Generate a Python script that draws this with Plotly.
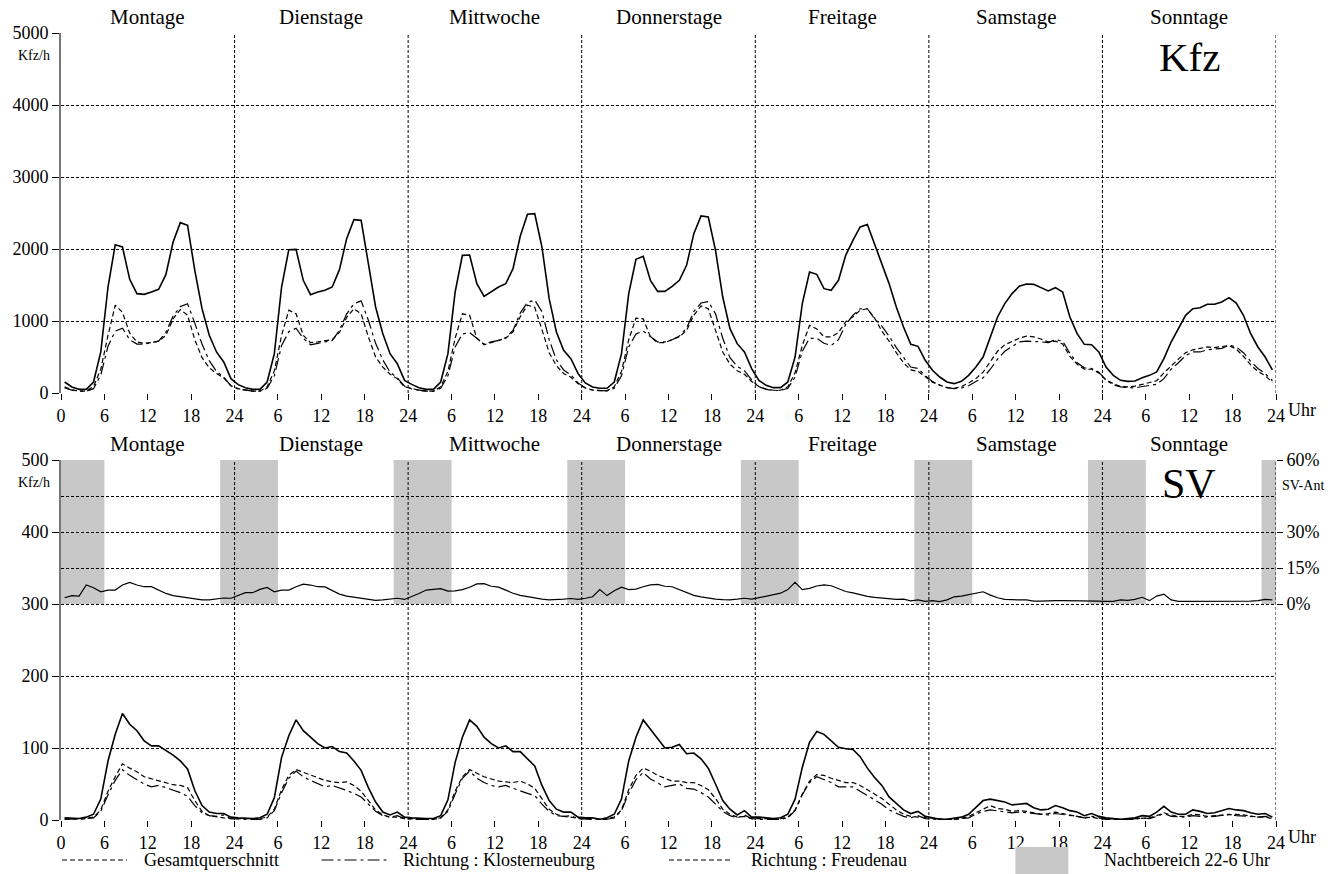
import plotly.graph_objects as go

# ---------------- data ----------------
days = ["Montage", "Dienstage", "Mittwoche", "Donnerstage", "Freitage", "Samstage", "Sonntage"]
x_ticks = list(range(0, 169, 6))
x_ticklabels = ["0"] + [str(v % 24 if v % 24 else 24) for v in x_ticks[1:]]
kfz_yticks = [0, 1000, 2000, 3000, 4000, 5000]
sv_yticks = [0, 100, 200, 300, 400, 500]
pct_ticks = [0, 15, 30, 60]
pct_ticklabels = ["0%", "15%", "30%", "60%"]
night_start, night_end = 22, 6

# Kfz/h, Gesamtquerschnitt (hourly, per day)
kfz_gesamt = [
    [153, 83, 51, 51, 153, 570, 1472, 2060, 2028, 1579, 1380, 1370, 1403, 1440, 1644, 2097, 2366, 2329, 1704, 1171, 801, 570, 431, 199],
    [116, 74, 51, 51, 153, 546, 1472, 1991, 1995, 1565, 1366, 1403, 1426, 1472, 1713, 2144, 2408, 2398, 1796, 1195, 824, 546, 407, 176],
    [120, 74, 51, 51, 153, 546, 1403, 1912, 1917, 1519, 1343, 1412, 1472, 1519, 1727, 2176, 2482, 2491, 2028, 1310, 847, 593, 477, 269],
    [139, 83, 65, 65, 153, 546, 1380, 1857, 1898, 1565, 1412, 1412, 1482, 1565, 1773, 2213, 2459, 2445, 1982, 1333, 894, 685, 570, 338],
    [176, 106, 74, 74, 153, 500, 1241, 1681, 1648, 1449, 1426, 1565, 1912, 2120, 2306, 2340, 2074, 1796, 1519, 1195, 917, 676, 648, 454],
    [315, 222, 153, 130, 162, 245, 361, 500, 778, 1056, 1241, 1380, 1482, 1514, 1509, 1463, 1417, 1463, 1403, 1056, 824, 676, 671, 570],
    [361, 245, 176, 162, 167, 213, 245, 292, 477, 708, 894, 1079, 1171, 1185, 1232, 1232, 1264, 1324, 1250, 1079, 824, 639, 500, 320],
]
# Kfz/h, Richtung Klosterneuburg
kfz_kloster = [
    [70, 40, 25, 25, 60, 250, 650, 860, 900, 740, 680, 680, 700, 720, 840, 1070, 1200, 1240, 970, 680, 450, 300, 220, 100],
    [55, 35, 25, 25, 65, 240, 660, 850, 900, 760, 670, 690, 710, 730, 870, 1100, 1240, 1280, 1010, 690, 460, 290, 210, 95],
    [55, 36, 25, 25, 65, 240, 640, 820, 840, 760, 680, 710, 730, 770, 870, 1110, 1260, 1290, 1130, 740, 460, 320, 250, 140],
    [70, 40, 30, 30, 65, 240, 640, 820, 860, 780, 710, 710, 740, 790, 900, 1130, 1250, 1270, 1100, 760, 490, 370, 310, 180],
    [85, 50, 35, 35, 65, 220, 580, 760, 760, 690, 660, 740, 950, 1080, 1170, 1170, 1030, 930, 790, 630, 490, 360, 340, 240],
    [160, 110, 75, 60, 70, 100, 160, 210, 330, 470, 580, 650, 710, 720, 720, 710, 700, 740, 720, 550, 420, 350, 340, 290],
    [180, 115, 85, 75, 70, 90, 105, 120, 200, 330, 420, 520, 570, 570, 600, 610, 620, 665, 640, 560, 440, 340, 270, 170],
]
# Kfz/h, Richtung Freudenau
kfz_freudenau = [
    [85, 45, 25, 25, 90, 330, 800, 1220, 1120, 830, 710, 690, 700, 720, 800, 1030, 1160, 1080, 740, 490, 350, 270, 210, 100],
    [60, 40, 25, 25, 85, 310, 800, 1150, 1100, 800, 700, 710, 720, 740, 840, 1050, 1170, 1100, 780, 500, 360, 260, 200, 85],
    [65, 38, 25, 25, 85, 300, 760, 1100, 1080, 760, 670, 700, 740, 760, 850, 1060, 1220, 1190, 880, 560, 380, 270, 220, 130],
    [70, 42, 33, 33, 85, 300, 740, 1040, 1030, 780, 700, 700, 740, 780, 870, 1080, 1210, 1170, 870, 570, 400, 310, 260, 160],
    [90, 55, 38, 38, 85, 280, 660, 940, 890, 780, 780, 840, 990, 1060, 1150, 1170, 1040, 860, 720, 560, 420, 320, 300, 220],
    [150, 110, 75, 65, 90, 140, 200, 290, 440, 580, 670, 720, 760, 790, 780, 750, 710, 720, 680, 510, 400, 330, 330, 280],
    [180, 130, 90, 85, 95, 120, 140, 170, 280, 380, 470, 560, 600, 620, 640, 630, 640, 660, 610, 510, 390, 300, 240, 150],
]
# SV/h, Gesamtquerschnitt
sv_gesamt = [
    [3, 2, 2, 4, 8, 29, 82, 119, 148, 133, 124, 110, 103, 103, 97, 90, 82, 71, 41, 20, 11, 9, 9, 4],
    [3, 2, 2, 3, 8, 31, 87, 117, 139, 124, 115, 106, 100, 102, 95, 93, 82, 69, 45, 25, 11, 7, 11, 4],
    [3, 2, 2, 2, 6, 28, 80, 115, 139, 130, 115, 106, 100, 103, 95, 95, 85, 75, 48, 27, 15, 11, 11, 4],
    [3, 3, 1, 3, 8, 29, 82, 115, 139, 126, 113, 100, 101, 105, 92, 93, 85, 72, 50, 27, 15, 7, 13, 4],
    [4, 3, 2, 3, 8, 29, 73, 108, 123, 119, 110, 101, 99, 98, 88, 72, 59, 48, 32, 23, 14, 9, 12, 5],
    [3, 1, 1, 2, 4, 8, 18, 27, 29, 27, 25, 21, 22, 23, 17, 14, 15, 20, 17, 13, 11, 6, 9, 5],
    [3, 2, 1, 2, 3, 6, 5, 11, 19, 11, 8, 8, 14, 12, 9, 10, 13, 16, 14, 13, 10, 8, 9, 4],
]
# SV/h, Richtung Klosterneuburg
sv_kloster = [
    [1, 1, 1, 2, 3, 12, 35, 55, 70, 62, 56, 50, 46, 48, 45, 42, 38, 33, 20, 10, 6, 5, 7, 2],
    [1, 1, 1, 1, 3, 13, 38, 58, 68, 60, 55, 50, 46, 48, 45, 41, 37, 32, 22, 12, 6, 4, 6, 2],
    [1, 1, 1, 1, 3, 12, 36, 58, 68, 58, 52, 48, 46, 48, 44, 40, 37, 34, 22, 12, 6, 5, 6, 2],
    [1, 1, 0, 1, 3, 13, 37, 56, 66, 57, 52, 46, 48, 50, 44, 43, 38, 32, 22, 12, 6, 3, 7, 2],
    [1, 1, 1, 1, 3, 13, 35, 52, 60, 56, 52, 46, 46, 46, 40, 34, 28, 22, 14, 10, 5, 3, 6, 2],
    [1, 0, 0, 1, 2, 3, 8, 12, 14, 13, 12, 10, 11, 10, 8, 7, 7, 9, 8, 6, 5, 3, 5, 3],
    [1, 1, 0, 1, 1, 3, 2, 5, 9, 5, 4, 4, 6, 5, 4, 5, 6, 8, 6, 6, 5, 4, 5, 2],
]
# SV/h, Richtung Freudenau
sv_freudenau = [
    [2, 1, 1, 2, 4, 14, 40, 60, 78, 72, 67, 60, 57, 54, 52, 49, 48, 45, 27, 12, 6, 4, 3, 2],
    [2, 1, 1, 2, 4, 15, 42, 62, 70, 66, 62, 58, 55, 53, 52, 53, 48, 40, 27, 14, 7, 4, 4, 2],
    [2, 1, 1, 1, 3, 14, 40, 60, 70, 65, 60, 57, 54, 53, 52, 54, 50, 44, 30, 15, 8, 5, 4, 2],
    [2, 2, 1, 2, 4, 14, 42, 62, 72, 68, 62, 58, 54, 54, 52, 52, 48, 42, 30, 15, 8, 4, 5, 2],
    [2, 2, 1, 2, 4, 14, 36, 54, 63, 62, 58, 55, 52, 52, 48, 42, 36, 30, 22, 14, 8, 5, 4, 3],
    [2, 1, 1, 1, 2, 5, 10, 16, 20, 16, 15, 12, 13, 12, 10, 8, 9, 11, 9, 7, 5, 3, 4, 2],
    [2, 1, 1, 1, 2, 3, 3, 6, 10, 7, 5, 5, 8, 7, 5, 6, 7, 8, 8, 7, 5, 4, 4, 2],
]
# SV-Anteil in %
sv_anteil = [
    [2.6, 3.5, 3.3, 7.9, 6.8, 5.1, 5.8, 5.8, 7.9, 9.0, 7.9, 7.2, 7.2, 5.8, 4.4, 3.5, 3.0, 2.4, 1.9, 1.7, 1.7, 2.2, 2.5, 2.4],
    [3.5, 4.7, 4.7, 6.1, 6.9, 5.1, 5.8, 5.8, 7.2, 8.3, 7.9, 7.2, 7.1, 5.5, 4.1, 3.3, 2.8, 2.4, 1.9, 1.5, 1.7, 2.1, 2.4, 1.9],
    [3.0, 4.4, 5.8, 6.1, 6.4, 5.4, 5.5, 6.0, 7.0, 8.4, 8.5, 7.4, 7.0, 5.8, 4.5, 3.6, 3.0, 2.5, 2.0, 1.7, 1.7, 2.0, 2.3, 1.9],
    [2.4, 3.0, 6.0, 3.5, 5.5, 7.0, 6.0, 6.2, 7.2, 8.0, 8.2, 7.4, 7.2, 6.0, 4.6, 3.6, 3.0, 2.4, 2.0, 1.8, 1.7, 2.0, 2.4, 2.0],
    [2.6, 3.4, 3.8, 4.5, 6.0, 9.0, 6.0, 6.5, 7.5, 8.0, 7.6, 6.4, 5.2, 4.6, 3.8, 3.2, 2.8, 2.5, 2.1, 1.9, 2.0, 1.3, 1.7, 1.1],
    [1.4, 1.0, 1.7, 3.0, 3.3, 4.0, 4.7, 5.1, 3.7, 2.6, 1.9, 1.7, 1.7, 1.7, 1.2, 1.2, 1.4, 1.4, 1.4, 1.4, 1.5, 1.4, 1.5, 1.2],
    [1.1, 1.1, 1.7, 1.5, 1.9, 2.8, 1.4, 3.3, 4.1, 1.7, 1.1, 1.1, 1.2, 1.2, 1.0, 1.0, 1.1, 1.2, 1.2, 1.2, 1.2, 1.4, 1.9, 1.7],
]


def flat(d):
    return [v for day in d for v in day]


n_hours = 24 * len(days)
x_hours = [h + 0.5 for h in range(n_hours)]

FONT = "Liberation Serif, Times New Roman, serif"
BLACK = "black"
GRID_DASH = "3px,2px"
DASH_KLOSTER = "12px,4px,3px,4px"
DASH_FREUD = "5px,3px"

fig = go.Figure()

# ---------------- traces ----------------
for xa, ya, g, k, f in [("x", "y", kfz_gesamt, kfz_kloster, kfz_freudenau),
                         ("x2", "y2", sv_gesamt, sv_kloster, sv_freudenau)]:
    fig.add_trace(go.Scatter(x=x_hours, y=flat(k), mode="lines", xaxis=xa, yaxis=ya,
                             line=dict(color=BLACK, width=1.2, dash=DASH_KLOSTER),
                             name="Richtung : Klosterneuburg", showlegend=False))
    fig.add_trace(go.Scatter(x=x_hours, y=flat(f), mode="lines", xaxis=xa, yaxis=ya,
                             line=dict(color=BLACK, width=1.2, dash=DASH_FREUD),
                             name="Richtung : Freudenau", showlegend=False))
    fig.add_trace(go.Scatter(x=x_hours, y=flat(g), mode="lines", xaxis=xa, yaxis=ya,
                             line=dict(color=BLACK, width=1.6),
                             name="Gesamtquerschnitt", showlegend=False))

fig.add_trace(go.Scatter(x=x_hours, y=flat(sv_anteil), mode="lines", xaxis="x2", yaxis="y3",
                         line=dict(color=BLACK, width=1.2), name="SV-Ant", showlegend=False))

# ---------------- layout ----------------
W, H = 1341, 874
ML, MR, MT, MB = 59, 65, 33, 54
PW, PH = W - ML - MR, H - MT - MB


def px_x(p):
    return (p - ML) / PW


def px_y(p):
    return (H - MB - p) / PH


tickfont = dict(family=FONT, size=18, color=BLACK)
xax = dict(range=[0, n_hours], tickmode="array", tickvals=x_ticks, ticktext=x_ticklabels,
           ticks="outside", ticklen=6, tickcolor=BLACK, tickwidth=1, showgrid=False,
           zeroline=False, showline=False, tickfont=tickfont, fixedrange=True)
yax_common = dict(tickmode="array", ticks="outside", ticklen=7, tickcolor=BLACK, showgrid=True,
                  gridcolor=BLACK, griddash=GRID_DASH, gridwidth=1, zeroline=False,
                  showline=True, linecolor="#777777", linewidth=2, tickfont=tickfont)

top_dom = [px_y(393), 1.0]
bot_dom = [0.0, px_y(460)]
kfz_range = [0, 5000]
sv_range = [0, 500]

fig.update_layout(
    width=W, height=H, margin=dict(l=ML, r=MR, t=MT, b=MB),
    paper_bgcolor="white", plot_bgcolor="white",
    font=dict(family=FONT, color=BLACK),
    xaxis=dict(xax, anchor="y", domain=[0, 1]),
    xaxis2=dict(xax, anchor="y2", domain=[0, 1]),
    yaxis=dict(yax_common, domain=top_dom, range=kfz_range, tickvals=kfz_yticks, anchor="x"),
    yaxis2=dict(yax_common, domain=bot_dom, range=sv_range, tickvals=sv_yticks, anchor="x2",
                minor=dict(tickmode="array", tickvals=[350, 450], showgrid=True, gridcolor=BLACK,
                           griddash=GRID_DASH, gridwidth=1, ticks="")),
    yaxis3=dict(overlaying="y2", side="right", anchor="x2", range=[-90, 60], tickmode="array",
                tickvals=pct_ticks, ticktext=pct_ticklabels, ticks="outside", ticklen=6,
                tickcolor=BLACK, showgrid=False, zeroline=False, showline=False, tickfont=tickfont),
    showlegend=False,
)

shapes = []
# night shading (22-6 Uhr) in the SV-Anteil band
for d in range(len(days) + 1):
    x0 = max(0, 24 * d - (24 - night_start))
    x1 = min(n_hours, 24 * d + night_end)
    if x1 > x0:
        shapes.append(dict(type="rect", xref="x2", yref="y2", x0=x0, x1=x1, y0=300, y1=500,
                           fillcolor="#c8c8c8", line=dict(width=0), layer="below"))
# vertical day-boundary grid lines (drawn after shading so they stay visible)
for xa, ya, rng in [("x", "y", kfz_range), ("x2", "y2", sv_range)]:
    for d in range(1, len(days) + 1):
        shapes.append(dict(type="line", xref=xa, yref=ya, x0=24 * d, x1=24 * d,
                           y0=rng[0], y1=rng[1],
                           line=dict(color=BLACK, width=1, dash=GRID_DASH), layer="below"))

annotations = []
for xa, ya in [("x", "y domain"), ("x2", "y2 domain")]:
    for i, name in enumerate(days):
        annotations.append(dict(x=24 * i + 12, xref=xa, y=1, yref=ya, yanchor="bottom",
                                text=name, showarrow=False, yshift=2,
                                font=dict(family=FONT, size=21, color=BLACK)))
    annotations.append(dict(x=0, xref=xa + " domain", y=1, yref=ya,
                            xanchor="right", yanchor="top", xshift=-9, yshift=-13,
                            text="Kfz/h", showarrow=False,
                            font=dict(family=FONT, size=14, color=BLACK)))
    annotations.append(dict(x=1, xref=xa + " domain", y=0, yref=ya, xanchor="left",
                            yanchor="top", xshift=10, yshift=-5, text="Uhr", showarrow=False,
                            font=dict(family=FONT, size=18, color=BLACK)))

annotations.append(dict(x=24 * 6 + 12, xref="x", y=1, yref="y domain", yanchor="middle",
                        yshift=-24, text="Kfz", showarrow=False,
                        font=dict(family=FONT, size=41, color=BLACK)))
annotations.append(dict(x=24 * 6 + 12, xref="x2", y=1, yref="y2 domain", yanchor="middle",
                        yshift=-24, text="SV", showarrow=False,
                        font=dict(family=FONT, size=42, color=BLACK)))
annotations.append(dict(x=1, xref="x2 domain", y=1, yref="y2 domain", xanchor="left",
                        yanchor="middle", xshift=4, yshift=-25, text="SV-Ant", showarrow=False,
                        font=dict(family=FONT, size=14, color=BLACK)))

# legend (drawn manually below the lower chart)
leg_y = px_y(860)
legend_items = [
    (60, 125, DASH_FREUD, 140, "Gesamtquerschnitt"),
    (320, 385, DASH_KLOSTER, 400, "Richtung : Klosterneuburg"),
    (668, 732, DASH_FREUD, 748, "Richtung : Freudenau"),
]
for a, b, dash, tx, label in legend_items:
    shapes.append(dict(type="line", xref="paper", yref="paper", x0=px_x(a), x1=px_x(b),
                       y0=leg_y, y1=leg_y, line=dict(color=BLACK, width=1.2, dash=dash)))
    annotations.append(dict(x=px_x(tx), xref="paper", y=leg_y, yref="paper", xanchor="left",
                            yanchor="middle", text=label, showarrow=False,
                            font=dict(family=FONT, size=18, color=BLACK)))
shapes.append(dict(type="rect", xref="paper", yref="paper", x0=px_x(1015), x1=px_x(1068),
                   y0=px_y(847), y1=px_y(880), fillcolor="#c8c8c8", line=dict(width=0)))
annotations.append(dict(x=px_x(1102), xref="paper", y=leg_y, yref="paper", xanchor="left",
                        yanchor="middle", text="Nachtbereich 22-6 Uhr", showarrow=False,
                        font=dict(family=FONT, size=18, color=BLACK)))

fig.update_layout(shapes=shapes, annotations=annotations)

fig.write_html("out.html", post_script="document.body.style.margin='0';",
               config={"displayModeBar": False})
